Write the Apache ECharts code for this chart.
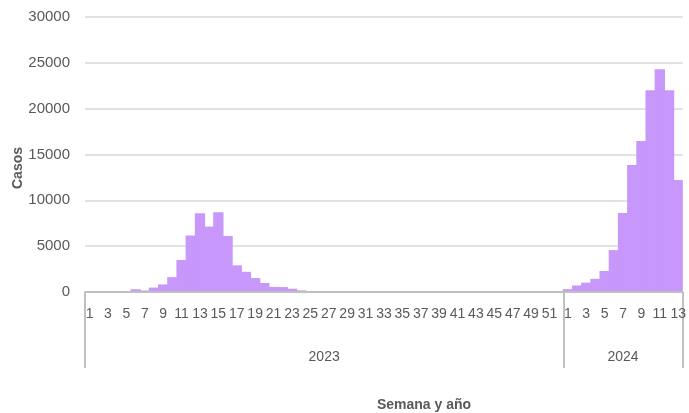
<!DOCTYPE html>
<html>
<head>
<meta charset="utf-8">
<script src="https://cdn.jsdelivr.net/npm/echarts@6/dist/echarts.min.js"></script>
<style>
html,body{margin:0;padding:0;background:#fff;}
#chart{width:689px;height:413px;}
</style>
</head>
<body>
<div id="chart"></div>
<script>
// ---- Data ----
const years = ['2023', '2024'];
const weeksPerYear = [52, 13];
const cases2023 = [
  10, 15, 20, 30, 60, 300, 170, 480, 830, 1620,
  3490, 6160, 8590, 7140, 8700, 6110, 2910, 2200, 1520, 980,
  560, 540, 360, 180, 90, 60, 40, 30, 30, 25,
  25, 20, 20, 20, 20, 20, 20, 20, 20, 20,
  20, 20, 20, 20, 20, 20, 20, 20, 25, 30,
  40, 60
];
const cases2024 = [
  310, 710, 1020, 1440, 2290, 4570, 8620, 13850, 16470, 22000,
  24300, 22000, 12230
];
const yTicks = [0, 5000, 10000, 15000, 20000, 25000, 30000];
const yAxisTitle = 'Casos';
const xAxisTitle = 'Semana y año';

// ---- Build category axis ----
const categories = [];
const values = [];
const allCases = [cases2023, cases2024];
years.forEach((y, yi) => {
  for (let w = 1; w <= weeksPerYear[yi]; w++) {
    categories.push(y + '-' + w);
    values.push(allCases[yi][w - 1]);
  }
});
const total = weeksPerYear.reduce((a, b) => a + b, 0);
const boundaries = [0];
const centers = [];
let acc = 0;
weeksPerYear.forEach(n => { centers.push(acc + n / 2); acc += n; boundaries.push(acc); });

const chart = echarts.init(document.getElementById('chart'));
const labelColor = '#595959';
const barColor = '#c797fb';
chart.setOption({
  animation: false,
  backgroundColor: '#ffffff',
  grid: { left: 85, right: 4, top: 17, bottom: 121, containLabel: false },
  xAxis: [
    {
      type: 'category',
      data: categories,
      boundaryGap: true,
      z: 5,
      axisLine: { show: true, lineStyle: { color: '#c0c0c0', width: 2 } },
      axisTick: { show: false },
      axisLabel: {
        interval: 1,
        margin: 15,
        color: labelColor,
        fontFamily: 'Liberation Sans',
        fontSize: 14,
        formatter: v => v.split('-')[1]
      },
      splitLine: { show: false }
    },
    {
      type: 'value',
      min: 0,
      max: total,
      position: 'bottom',
      z: 5,
      axisLine: { show: false },
      splitLine: { show: false },
      axisTick: {
        show: true,
        customValues: boundaries,
        length: 76,
        lineStyle: { color: '#c0c0c0', width: 2 }
      },
      axisLabel: {
        show: true,
        customValues: centers,
        margin: 58,
        color: labelColor,
        fontFamily: 'Liberation Sans',
        fontSize: 14,
        formatter: v => {
          const i = centers.indexOf(v);
          return i >= 0 ? years[i] : '';
        }
      }
    }
  ],
  yAxis: {
    type: 'value',
    min: yTicks[0],
    max: yTicks[yTicks.length - 1],
    interval: yTicks[1] - yTicks[0],
    axisLine: { show: false },
    axisTick: { show: false },
    axisLabel: {
      margin: 15,
      color: labelColor,
      fontFamily: 'Liberation Sans',
      fontSize: 15,
      formatter: v => String(v)
    },
    splitLine: { lineStyle: { color: '#d9d9d9', width: 1.5 } }
  },
  series: [{
    type: 'bar',
    xAxisIndex: 0,
    data: values,
    barWidth: '112%',
    itemStyle: { color: barColor }
  }],
  graphic: [
    {
      type: 'text',
      x: 18, y: 168,
      rotation: Math.PI / 2,
      style: {
        text: yAxisTitle,
        fill: labelColor,
        font: 'bold 14px "Liberation Sans"',
        align: 'center',
        verticalAlign: 'middle'
      }
    },
    {
      type: 'text',
      x: 424, y: 405,
      style: {
        text: xAxisTitle,
        fill: labelColor,
        font: 'bold 14px "Liberation Sans"',
        align: 'center',
        verticalAlign: 'middle'
      }
    }
  ]
});
</script>
</body>
</html>
